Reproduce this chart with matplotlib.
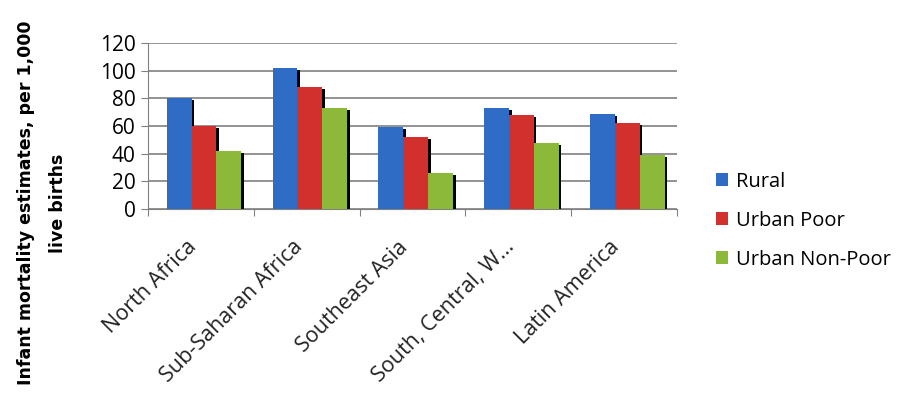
import numpy as np
import matplotlib.pyplot as plt

plt.rcParams['font.family'] = ['Open Sans', 'DejaVu Sans']

regions = ['North Africa', 'Sub-Saharan Africa', 'Southeast Asia',
           'South, Central, W...', 'Latin America']
series = ['Rural', 'Urban Poor', 'Urban Non-Poor']
rural = [80, 102, 59, 73, 69]
urban_poor = [60, 88, 52, 68, 62]
urban_non_poor = [42, 73, 26, 48, 39]
y_ticks = [0, 20, 40, 60, 80, 100, 120]

colors = ['#2f6cc6', '#d2302c', '#8db93a']

fig = plt.figure(figsize=(9.13, 4.08), dpi=100)
ax = fig.add_axes([0.162, 0.4877, 0.5795, 0.4069])

x = np.arange(len(regions))
w = 0.235
for i, (vals, c, lab) in enumerate(zip([rural, urban_poor, urban_non_poor], colors, series)):
    pos = x + (i - 1) * w + 0.03
    # dark shadow on the right side of each bar
    ax.bar(pos + w / 2 + 0.012, np.array(vals) - 1.5, width=0.025, color='black',
           align='center', zorder=2)
    ax.bar(pos, vals, width=w, color=c, label=lab, zorder=3)

ax.set_xlim(-0.5, len(regions) - 0.5)
ax.set_ylim(0, 120)
ax.set_yticks(y_ticks)
ax.tick_params(axis='y', labelsize=15, length=5, color='#808080', pad=4)
ax.yaxis.grid(True, color='#808080', linewidth=1.2)
ax.set_axisbelow(True)

# category ticks between groups, labels at centres
ax.set_xticks(np.arange(-0.5, len(regions)))
ax.set_xticklabels([])
ax.tick_params(axis='x', length=5, color='#808080')
for xi, name in zip(x, regions):
    ax.text(xi - 0.14, -20, name, rotation=45, ha='right', va='top',
            rotation_mode='anchor', fontsize=15.5, color='#222222')

for s in ['top', 'right']:
    ax.spines[s].set_visible(False)
for s in ['left', 'bottom']:
    ax.spines[s].set_color('#808080')

fig.text(0.029, 0.502, 'Infant mortality estimates, per 1,000',
         rotation=90, ha='center', va='center', fontsize=12.5,
         fontweight='bold', family='DejaVu Sans')
fig.text(0.063, 0.502, 'live births',
         rotation=90, ha='center', va='center', fontsize=12.5,
         fontweight='bold', family='DejaVu Sans')

ax.legend(loc='center left', bbox_to_anchor=(1.04, -0.07), frameon=False,
          fontsize=14.5, handlelength=0.6, handleheight=0.6, labelspacing=0.95,
          handletextpad=0.4)

fig.savefig('out.png', dpi=100)
